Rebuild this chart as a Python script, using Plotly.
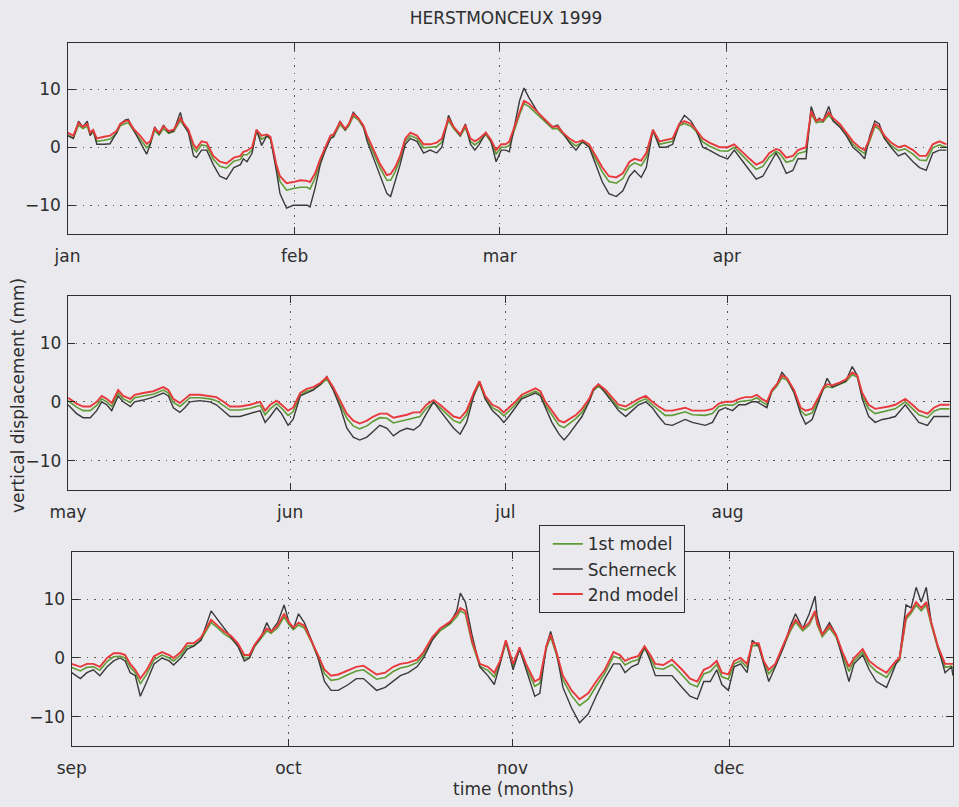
from datetime import date

import plotly.graph_objects as go

# ---------------------------------------------------------------------------
# Vertical displacement at Herstmonceux, 1999 (mm), three 4-month windows.
# x = days since the first day of the window.
# ---------------------------------------------------------------------------

MONTH_NAMES = ["jan", "feb", "mar", "apr", "may", "jun",
               "jul", "aug", "sep", "oct", "nov", "dec"]

# --- January - April -------------------------------------------------------
DAYS_JAN_APR = [
    0, 0.8, 1.5, 2.1, 2.7, 3.1, 3.5, 4.0, 5.0, 5.8, 6.7, 7.2, 7.9, 8.3, 9.0,
    9.9, 10.8, 11.3, 11.9, 12.5, 13.1, 13.8, 14.5, 15.4, 15.8, 16.5, 17.2,
    17.6, 18.3, 19.0, 19.9, 20.8, 21.7, 22.7, 23.6, 24.0, 24.5, 25.2, 25.8,
    26.5, 27.2, 27.7, 28.1, 28.5, 29.0, 29.9, 30.8, 31.8, 32.7, 33.1, 33.8,
    34.5, 35.2, 35.9, 36.3, 37.2, 37.9, 38.4, 39.0, 39.7, 40.4, 40.9, 41.8,
    42.7, 43.6, 44.1, 44.7, 45.4, 46.1, 46.8, 47.7, 48.6, 49.5, 50.4, 51.1,
    52.0, 52.7, 53.6, 54.3, 55.0, 55.6, 56.2, 57.1, 57.8, 58.5, 59.2, 59.8,
    60.3, 61.7, 62.3, 63.0, 64.2, 65.3, 66.2, 66.9, 67.6, 68.5, 69.4, 70.3,
    71.2, 72.1, 73.0, 73.9, 74.9, 75.8, 76.7, 77.4, 78.3, 79.0, 79.9, 80.8,
    81.7, 82.6, 83.5, 84.2, 85.1, 85.8, 86.7, 87.6, 89.0, 90.1, 91.0, 92.2,
    93.1, 94.0, 94.9, 95.8, 96.7, 97.2, 98.1, 99.0, 99.7, 100.8, 101.5,
    102.2, 102.6, 103.1, 103.9, 104.5, 105.4, 106.3, 107.2, 108.1, 108.8,
    109.5, 110.2, 110.8, 111.5, 112.4, 113.4, 114.3, 115.4, 116.3, 117.2,
    118.1, 119.0, 120.0,
]
SCHERNECK_JAN_APR = [
    2, 1.5, 4.5, 3.5, 4.5, 2, 3, 0.5, 0.5, 0.6, 2.5, 4, 4.7, 4.8, 3,
    1, -1.2, 0.5, 3.5, 2.2, 3.8, 2.5, 2.8, 6, 4, 2.5, -1.5,
    -1.8, -0.5, -0.5, -3, -5, -5.5, -3.5, -3, -2, -2.5, -1, 3,
    0.3, 2, 1.5, -1, -4, -8, -10.5, -10, -10, -10, -10.3, -7,
    -3, -0.5, 1.5, 1.8, 4.5, 3, 4, 6, 5, 3.5, 1, -2,
    -5, -8, -8.5, -6, -3, 0.5, 1.5, 1, -1, -0.5, -1, 0,
    5.5, 3.5, 2, 4, 0.5, -0.5, 0.5, 2.5, 1, -2.5, -0.5, -0.5,
    -0.8, 8, 10.2, 8.5, 6, 4.5, 3.5, 3.8, 2.5, 0.8, -0.5, 1,
    0, -3, -6, -8, -8.5, -7.5, -5, -4, -5.2, -3.5, 3, 0,
    0, 0.5, 4, 5.5, 4.5, 3, 0, -0.5, -1.5, -2, -0.5, -2.5,
    -4, -5.5, -5, -3, -1, -2, -4.5, -4, -2, -2, 7,
    4.5, 5, 4.5, 7, 4.5, 3.5, 2, 0, -1, -2,
    2, 4.5, 4, 1.5, 0, -1.5, -1, -2.5, -3.5, -4,
    -1, -0.5, -0.5,
]
MODEL1_JAN_APR = [
    2.1, 1.6, 3.8, 3.2, 3.6, 2.1, 2.7, 1.0, 1.2, 1.4, 2.4, 3.7, 4.1, 4.2, 2.9,
    1.5, -0.1, 0.6, 2.9, 2.1, 3.2, 2.4, 2.7, 4.6, 3.8, 2.6, -0.2,
    -0.8, 0.4, 0.2, -2.1, -3.3, -3.6, -2.4, -2.1, -1.3, -1.3, -0.5, 2.7,
    1.4, 1.9, 1.4, -0.9, -3.5, -5.9, -7.4, -7.1, -6.9, -6.9, -7.2, -5.3,
    -2.5, -0.4, 1.6, 1.8, 3.9, 2.9, 3.7, 5.3, 4.7, 3.4, 1.5, -1.1,
    -3.7, -5.7, -5.7, -4.3, -2.1, 1.0, 2.0, 1.5, -0.1, 0.0, 0.1, 0.9,
    4.6, 3.2, 1.9, 3.4, 1.0, 0.4, 1.0, 2.2, 0.9, -1.2, 0.0, 0.0,
    0.3, 5.6, 7.5, 7.0, 5.6, 4.2, 3.2, 3.2, 2.2, 1.1, 0.2, 0.9,
    0.1, -2.1, -4.3, -5.9, -6.2, -5.4, -3.3, -2.7, -3.2, -1.8, 2.7, 0.5,
    0.7, 1.0, 3.7, 4.1, 3.6, 2.7, 0.9, 0.2, -0.6, -0.7, 0.0, -1.6,
    -2.7, -3.8, -3.3, -1.7, -0.7, -1.1, -2.6, -2.3, -1.1, -0.7, 5.8,
    4.2, 4.4, 4.3, 5.5, 4.6, 3.6, 2.1, 0.5, -0.5, -1.1,
    1.1, 3.6, 3.1, 1.6, 0.3, -0.6, -0.3, -1.2, -2.2, -2.3,
    -0.1, 0.4, 0.0,
]
MODEL2_JAN_APR = [
    2.5, 2, 4.2, 3.5, 4, 2.5, 3, 1.5, 1.8, 2, 2.8, 4, 4.5, 4.6, 3.2,
    2, 0.6, 1, 3.3, 2.5, 3.6, 2.8, 3, 5, 4.2, 3, 0.5,
    -0.2, 1, 0.8, -1.5, -2.5, -2.8, -1.8, -1.5, -0.8, -0.6, 0, 3,
    2, 2.2, 1.8, -0.5, -3, -5, -6.2, -6, -5.7, -5.8, -6, -4.5,
    -2, 0, 2, 2.2, 4.3, 3.2, 4, 5.7, 5, 3.7, 2, -0.5,
    -3, -4.8, -4.6, -3.5, -1.5, 1.5, 2.5, 2, 0.5, 0.5, 0.8, 1.5,
    5, 3.5, 2.2, 3.8, 1.5, 1, 1.5, 2.5, 1.3, -0.5, 0.5, 0.5,
    1, 6, 8, 7.5, 6, 4.5, 3.5, 3.6, 2.5, 1.5, 0.8, 1.2,
    0.5, -1.5, -3.5, -5, -5.2, -4.5, -2.5, -2, -2.3, -1, 3, 1,
    1.2, 1.5, 4, 4.5, 4, 3, 1.5, 0.8, 0, 0, 0.5, -1,
    -2, -3, -2.5, -1, -0.3, -0.5, -1.8, -1.5, -0.5, 0, 6.2,
    4.5, 4.8, 4.6, 6, 5, 4, 2.5, 1, 0, -0.5,
    1.5, 4, 3.5, 2, 0.8, 0, 0.3, -0.5, -1.5, -1.5,
    0.5, 1, 0.5,
]

# --- May - August ----------------------------------------------------------
DAYS_MAY_AUG = [
    0, 1.2, 2.1, 3.1, 4.0, 4.7, 5.4, 6.1, 7.0, 7.7, 8.7, 9.3, 10.5, 11.9,
    13.3, 14.0, 14.7, 15.6, 16.3, 17.0, 18.4, 19.8, 20.7, 21.7, 22.6, 24.0,
    25.4, 26.8, 27.5, 28.2, 29.1, 29.8, 30.7, 31.4, 32.4, 33.3, 34.2, 35.2,
    36.1, 37.0, 38.0, 38.9, 39.8, 40.7, 41.7, 42.6, 43.5, 44.5, 45.4, 46.3,
    47.3, 48.2, 49.1, 50.0, 51.0, 51.9, 52.8, 53.8, 54.7, 55.6, 56.6, 57.4,
    58.2, 59.2, 60.1, 60.8, 61.5, 62.4, 63.3, 64.3, 65.2, 65.9, 66.6, 67.5,
    68.5, 69.2, 69.9, 70.8, 71.7, 72.7, 73.3, 74.0, 75.0, 75.9, 76.8, 77.8,
    78.7, 79.6, 80.6, 81.5, 82.4, 83.3, 84.3, 85.2, 86.1, 87.1, 88.0, 88.9,
    89.9, 90.8, 91.7, 92.7, 93.6, 94.5, 95.4, 96.1, 96.8, 97.5, 98.2, 98.9,
    99.6, 100.3, 101.3, 102.2, 102.9, 103.8, 104.7, 105.4, 105.9, 106.6,
    107.5, 108.5, 109.4, 110.1, 110.8, 111.7, 112.6, 113.6, 114.5, 115.4,
    116.8, 117.8, 118.7, 119.9, 120.8, 121.7, 123.0,
]
SCHERNECK_MAY_AUG = [
    -0.5, -2, -2.7, -2.7, -1.5, 0, -0.5, -1.5, 1, 0, -0.8, 0, 0.3, 0.8,
    1.5, 1, -1, -1.8, -1, 0, 0.2, 0, -0.5, -1.5, -2.5, -2.5,
    -2, -1.5, -3.5, -2.5, -1, -2, -4, -3, 1, 1.5, 2, 3,
    4.3, 2, -1, -4.5, -6, -6.5, -6, -5, -4, -4.5, -5.8, -5,
    -4.5, -4.8, -4, -2, 0, -1.5, -3, -4.5, -5.5, -3.5, 1, 3.5,
    0.5, -1.5, -2.5, -3.5, -2.5, -1, 0.5, 1, 1.5, 1, -1, -3.5,
    -5.5, -6.5, -5.5, -4, -2.5, 0, 2, 3, 1.5, 0, -1.5, -2.5,
    -1.5, -0.5, 0, -1, -2.5, -3.8, -4, -3.5, -3, -3.5, -3.8, -4,
    -3.5, -1.5, -1, -1.5, -0.5, -0.5, 0, 0, -0.5, -1, 2, 3,
    5, 4, 1.5, -2, -3.8, -3, 0, 2.5, 4, 2.5,
    3, 3.5, 6, 4.5, 0.5, -2.5, -3.5, -3, -2.8, -2.5,
    -0.5, -2, -3.5, -4, -2.5, -2.5, -2.5,
]
MODEL1_MAY_AUG = [
    0.2, -0.9, -1.5, -1.5, -0.6, 0.5, 0.0, -0.8, 1.5, 0.5, -0.1, 0.7, 1.0, 1.3,
    2.0, 1.5, -0.1, -0.8, -0.1, 0.7, 0.7, 0.5, 0.2, -0.6, -1.4, -1.4,
    -1.1, -0.6, -2.2, -1.2, -0.3, -1.1, -2.3, -1.7, 1.1, 1.8, 2.1, 2.9,
    3.9, 2.1, -0.5, -2.8, -4.1, -4.6, -4.1, -3.3, -2.7, -2.8, -3.6, -3.3,
    -3.0, -2.7, -2.5, -1.1, -0.1, -1.0, -2.1, -3.2, -3.6, -2.2, 1.1, 3.1,
    0.6, -1.0, -1.6, -2.4, -1.6, -0.5, 0.8, 1.3, 1.8, 1.3, -0.5, -2.2,
    -4.0, -4.4, -3.8, -2.9, -1.8, 0.1, 1.9, 2.7, 1.6, 0.3, -1.0, -1.4,
    -0.8, 0.0, 0.5, -0.5, -1.4, -2.3, -2.3, -2.0, -1.7, -2.2, -2.3, -2.3,
    -2.0, -0.8, -0.5, -0.6, 0.0, 0.2, 0.3, 0.7, 0.0, -0.5, 1.7, 2.7,
    4.1, 3.7, 1.6, -1.5, -2.3, -1.9, 0.3, 2.2, 2.6, 2.4,
    2.9, 3.4, 4.6, 4.2, 1.0, -1.2, -2.0, -1.7, -1.5, -1.2,
    0.0, -1.1, -2.2, -2.7, -1.6, -1.2, -1.2,
]
MODEL2_MAY_AUG = [
    0.7, -0.3, -0.8, -0.8, 0, 1, 0.5, -0.2, 2, 1, 0.5, 1.2, 1.5, 1.8,
    2.5, 2, 0.5, -0.2, 0.5, 1.2, 1.2, 1, 0.8, 0, -0.8, -0.8,
    -0.5, 0, -1.5, -0.5, 0.2, -0.5, -1.5, -1, 1.5, 2.2, 2.5, 3.2,
    4.2, 2.5, 0, -2, -3.2, -3.7, -3.2, -2.5, -2, -2, -2.7, -2.5,
    -2.2, -1.8, -1.8, -0.5, 0.3, -0.5, -1.5, -2.5, -2.8, -1.5, 1.5, 3.5,
    1, -0.5, -1, -1.8, -1, 0, 1.2, 1.8, 2.3, 1.8, 0, -1.5,
    -3.2, -3.5, -3, -2.3, -1.2, 0.5, 2.2, 3, 2, 0.8, -0.5, -0.8,
    -0.2, 0.5, 1, 0, -0.8, -1.5, -1.5, -1.3, -1, -1.5, -1.5, -1.5,
    -1.2, -0.3, 0, 0, 0.5, 0.8, 0.8, 1.2, 0.5, 0, 2, 3,
    4.5, 4, 2, -1, -1.5, -1.2, 0.8, 2.5, 3, 2.8,
    3.2, 3.8, 5, 4.5, 1.5, -0.5, -1.2, -1, -0.8, -0.5,
    0.5, -0.5, -1.5, -2, -1, -0.5, -0.5,
]

# --- September - December --------------------------------------------------
DAYS_SEP_DEC = [
    0, 1.2, 2.1, 3.0, 3.9, 4.9, 5.8, 6.7, 7.4, 8.1, 8.8, 9.5, 10.4, 11.4,
    12.5, 13.5, 14.1, 15.1, 16.0, 16.9, 17.9, 18.6, 19.3, 20.2, 21.1, 22.0,
    23.0, 23.9, 24.6, 25.3, 26.2, 27.0, 27.6, 28.5, 29.4, 30.1, 30.7, 31.4,
    32.2, 33.2, 34.1, 35.0, 35.9, 36.9, 38.3, 39.4, 40.4, 41.3, 42.2, 43.4,
    44.5, 45.5, 46.6, 47.8, 48.7, 49.9, 51.0, 52.4, 53.3, 53.8, 54.5, 55.4,
    56.5, 57.6, 58.5, 59.3, 60.1, 61.1, 62.0, 62.9, 64.1, 64.8, 65.7, 66.3,
    67.1, 68.0, 69.2, 70.3, 71.5, 72.6, 73.8, 75.0, 75.9, 76.6, 77.5, 78.4,
    79.3, 80.1, 80.8, 81.9, 83.1, 84.5, 85.6, 86.6, 87.5, 88.4, 89.3, 90.0,
    90.9, 91.7, 92.6, 93.5, 94.2, 95.1, 95.8, 96.5, 97.4, 98.6, 99.5, 100.2,
    101.2, 102.1, 102.9, 103.2, 103.9, 104.9, 105.8, 106.7, 107.6, 108.3,
    109.5, 110.4, 111.4, 112.8, 113.4, 114.1, 114.6, 115.5, 116.2, 116.9,
    117.6, 118.3, 119.0, 119.9, 120.9, 121.8, 122.0,
]
SCHERNECK_SEP_DEC = [
    -2.5, -3.5, -2.5, -2, -3, -1.5, -0.5, 0, -0.5, -2.5, -3, -6.5, -4, -1,
    0, -0.5, -1.2, 0, 1.5, 2, 3, 5.5, 8, 6.5, 5, 3.5,
    2, -0.5, 0, 2, 3.5, 6, 4.5, 6, 9, 6, 5, 7.5,
    6, 3, 0, -4, -5.5, -5.5, -4.5, -3.5, -3.5, -4.5, -5.5, -5,
    -4, -3, -2.5, -1.5, 0, 3, 5, 6, 8, 11, 9.5, 4,
    -1.5, -3, -4.5, -1, 3, -2, 1.5, -2, -6.5, -6, 2, 4.5,
    1, -5, -8.5, -11, -9.5, -6.5, -3.5, -1, -1, -2.5, -1.5, -1,
    2, -0.5, -3, -3, -3, -5, -6.5, -7, -4, -4, -2, -4.5,
    -5.5, -1.5, -1, -2.5, 3, 2, -1, -4, -1.5, 2, 5.5, 7.5,
    5, 7.5, 10.5, 7, 4, 6, 4, 0, -4, -1,
    0.5, -2, -4, -5, -3, -1, 0, 9, 8.5, 12,
    9.5, 12, 6, 2, -2.5, -1.5, -3,
]
MODEL1_SEP_DEC = [
    -1.6, -2.2, -1.6, -1.5, -2.1, -0.6, 0.2, 0.3, 0.0, -1.6, -2.5, -4.4, -2.7, -0.3,
    0.5, 0.0, -0.5, 0.5, 2.0, 2.1, 3.1, 4.6, 6.0, 5.1, 4.1, 3.4,
    2.1, 0.0, 0.1, 1.9, 3.4, 4.6, 4.2, 5.1, 7.0, 5.6, 4.8, 5.6,
    5.1, 2.7, 0.1, -2.7, -3.8, -3.6, -2.8, -2.2, -2.0, -2.8, -3.6, -3.3,
    -2.3, -1.7, -1.4, -0.8, 0.5, 3.1, 4.6, 5.8, 7.0, 8.0, 7.5, 2.6,
    -1.4, -2.1, -3.2, -0.9, 2.6, -1.5, 1.4, -1.5, -4.8, -4.3, 1.6, 3.6,
    0.6, -3.7, -6.4, -8.1, -7.0, -4.8, -2.6, 0.3, -0.1, -1.2, -0.6, -0.3,
    1.6, 0.0, -1.7, -1.9, -1.1, -2.9, -4.4, -4.9, -2.7, -2.3, -1.1, -3.2,
    -3.6, -1.0, -0.5, -1.6, 2.1, 2.1, -0.9, -2.7, -1.4, 2.1, 4.6, 6.1,
    4.6, 5.6, 7.6, 5.6, 3.6, 5.1, 3.6, 0.5, -2.3, -0.5,
    1.0, -1.1, -2.3, -3.3, -2.1, -0.9, -0.4, 6.6, 7.6, 9.0,
    8.0, 9.0, 5.6, 1.6, -1.6, -1.4, -1.7,
]
MODEL2_SEP_DEC = [
    -1, -1.5, -1, -1, -1.5, 0, 0.8, 0.8, 0.5, -1, -2, -3.5, -2, 0.3,
    1, 0.5, 0, 1, 2.5, 2.5, 3.5, 5, 6.5, 5.5, 4.5, 3.8,
    2.5, 0.5, 0.5, 2.2, 3.8, 5, 4.5, 5.5, 7.5, 6, 5.2, 6,
    5.5, 3, 0.5, -2, -3, -2.8, -2, -1.5, -1.3, -2, -2.8, -2.5,
    -1.5, -1, -0.8, -0.3, 1, 3.5, 5, 6.2, 7.5, 8.5, 8, 3,
    -1, -1.5, -2.5, -0.5, 3, -1, 1.8, -1, -4, -3.5, 2, 4,
    1, -3, -5.5, -7, -6, -4, -2, 1, 0.5, -0.5, 0, 0.3,
    2, 0.5, -1, -1.2, -0.3, -2, -3.5, -4, -2, -1.5, -0.5, -2.5,
    -2.8, -0.5, 0, -1, 2.5, 2.5, -0.5, -2, -1, 2.5, 5, 6.5,
    5, 6, 8, 6, 4, 5.5, 4, 1, -1.5, 0,
    1.5, -0.5, -1.5, -2.5, -1.5, -0.5, 0, 7, 8, 9.5,
    8.5, 9.5, 6, 2, -1, -1, -1,
]

PANELS = [
    (date(1999, 1, 1), date(1999, 5, 1),
     DAYS_JAN_APR, MODEL1_JAN_APR, SCHERNECK_JAN_APR, MODEL2_JAN_APR),
    (date(1999, 5, 1), date(1999, 9, 1),
     DAYS_MAY_AUG, MODEL1_MAY_AUG, SCHERNECK_MAY_AUG, MODEL2_MAY_AUG),
    (date(1999, 9, 1), date(2000, 1, 1),
     DAYS_SEP_DEC, MODEL1_SEP_DEC, SCHERNECK_SEP_DEC, MODEL2_SEP_DEC),
]

SERIES_NAMES = ["1st model", "Scherneck", "2nd model"]
SERIES_COLORS = ["#5f9b35", "#3a3a3a", "#e8393c"]
SERIES_WIDTHS = [1.6, 1.4, 1.9]

Y_TICKS = [-10, 0, 10]
Y_RANGE = [-15, 18]

BG = "#e9e9ee"
INK = "#2e2e2e"
FONT = "DejaVu Sans"
W, H = 959, 807

# Pixel boxes of the three panels (left, right, top, bottom)
BOXES = [
    (67.5, 946.7, 42.7, 234.3),
    (68.0, 949.7, 296.0, 490.0),
    (71.7, 953.0, 552.0, 746.3),
]

fig = go.Figure()
layout = {}

for i, (start, end, days, m1, sch, m2) in enumerate(PANELS):
    n = "" if i == 0 else str(i + 1)
    for name, vals, col, lw in zip(SERIES_NAMES, [m1, sch, m2],
                                   SERIES_COLORS, SERIES_WIDTHS):
        fig.add_trace(go.Scatter(
            x=days, y=vals, mode="lines", name=name,
            line=dict(color=col, width=lw),
            xaxis="x" + n, yaxis="y" + n,
            showlegend=(i == 2), legendgroup=name,
        ))

    # month starts within the window
    tickvals, ticktext = [], []
    y, m = start.year, start.month
    for k in range(4):
        mm = m + k
        d = date(y + (mm - 1) // 12, (mm - 1) % 12 + 1, 1)
        tickvals.append((d - start).days)
        ticktext.append(MONTH_NAMES[d.month - 1])

    left, right, top, bottom = BOXES[i]
    axis_common = dict(
        showline=True, linecolor=INK, linewidth=1.4, mirror="ticks",
        ticks="inside", ticklen=7, tickwidth=1.3, tickcolor=INK,
        showgrid=True, gridcolor="#5a5a5a", gridwidth=1,
        griddash="1.5px,6px", zeroline=False, automargin=False,
        tickfont=dict(family=FONT, size=17, color=INK),
    )
    layout["xaxis" + n] = dict(
        axis_common, domain=[left / W, right / W],
        range=[0, (end - start).days], tickvals=tickvals, ticktext=ticktext,
        anchor="y" + n, ticklabelstandoff=6,
    )
    layout["yaxis" + n] = dict(
        axis_common, domain=[1 - bottom / H, 1 - top / H],
        range=Y_RANGE, tickvals=Y_TICKS, anchor="x" + n,
        ticklabelstandoff=2,
    )

fig.update_layout(
    **layout,
    width=W, height=H,
    margin=dict(l=0, r=0, t=0, b=0, pad=0, autoexpand=False),
    paper_bgcolor=BG, plot_bgcolor=BG,
    font=dict(family=FONT, size=17, color=INK),
    title=dict(text="HERSTMONCEUX 1999", x=506 / W, y=1 - 18 / H,
               xanchor="center", yanchor="middle",
               font=dict(family=FONT, size=17, color=INK)),
    legend=dict(
        x=538.5 / W, y=1 - 525 / H, xanchor="left", yanchor="top",
        bgcolor=BG, bordercolor=INK, borderwidth=1.3,
        font=dict(family=FONT, size=17, color=INK),
        traceorder="normal", itemwidth=30, indentation=8,
    ),
    annotations=[
        dict(text="vertical displacement (mm)", textangle=-90,
             x=0, y=1 - 396 / H, xref="paper", yref="paper",
             xshift=6, showarrow=False, xanchor="left", yanchor="middle",
             font=dict(family=FONT, size=17, color=INK)),
        dict(text="time (months)",
             x=513 / W, y=1 - 789 / H, xref="paper", yref="paper",
             showarrow=False, xanchor="center", yanchor="middle",
             font=dict(family=FONT, size=17, color=INK)),
    ],
)

fig.write_html("out.html")
